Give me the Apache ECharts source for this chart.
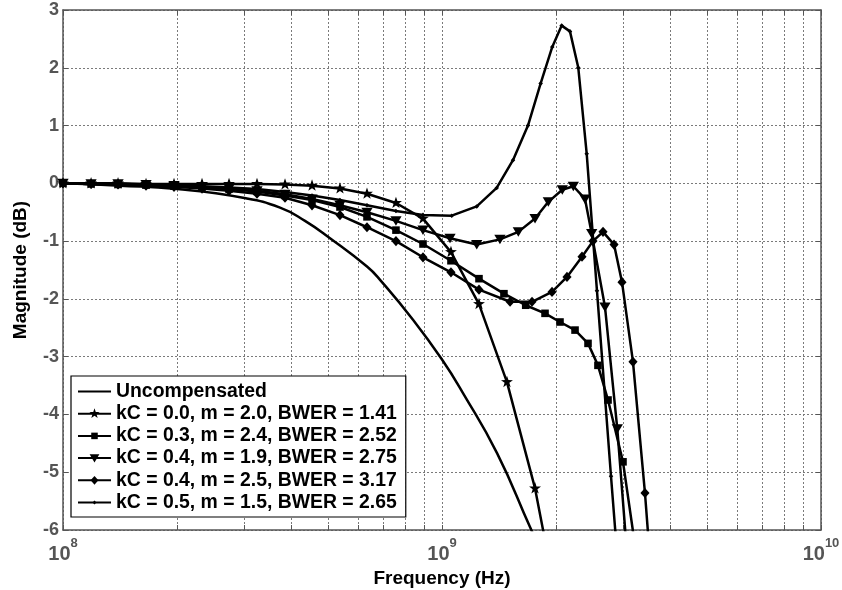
<!DOCTYPE html>
<html>
<head>
<meta charset="UTF-8">
<title>Magnitude response</title>
<style>
  * { margin: 0; padding: 0; }
  body { background: #fff; }
  #main { width: 842px; height: 590px; }
</style>
<script src="https://cdn.jsdelivr.net/npm/echarts@6.0.0/dist/echarts.min.js"></script>
</head>
<body>
<div id="main"></div>
<script>
var font = "'Liberation Sans', Arial, sans-serif";

// frequencies in Hz, magnitudes in dB
var uncompF  = [1.0e8, 1.414e8, 2.0e8, 2.985e8, 3.738e8, 4.35e8, 5.064e8, 6.34e8, 6.863e8, 8.384e8, 1.0e9, 1.136e9, 1.397e9, 1.707e9, 1.82e9];
var uncompDb = [0, -0.04, -0.1, -0.25, -0.42, -0.65, -0.95, -1.44, -1.67, -2.36, -3.05, -3.63, -4.67, -5.95, -6.35];

var starF  = [1.0e8, 1.186e8, 1.397e8, 1.656e8, 1.963e8, 2.327e8, 2.742e8, 3.25e8, 3.853e8, 4.54e8, 5.38e8, 6.34e8, 7.56e8, 8.91e8, 1.056e9, 1.252e9, 1.484e9, 1.76e9, 2.073e9];
var starDb = [0, 0, 0, -0.01, -0.01, -0.01, -0.01, -0.01, -0.02, -0.04, -0.09, -0.18, -0.34, -0.61, -1.19, -2.09, -3.44, -5.28, -7.7];

var lowF = [1.0e8, 1.186e8, 1.397e8, 1.656e8, 1.963e8, 2.327e8, 2.742e8, 3.25e8, 3.853e8, 4.54e8, 5.38e8, 6.34e8, 7.56e8, 8.91e8];

var sqF  = lowF.concat([1.056e9, 1.252e9, 1.457e9, 1.663e9, 1.870e9, 2.048e9, 2.244e9, 2.428e9, 2.579e9, 2.742e9, 3.003e9, 3.269e9]);
var sqDb = [0, -0.01, -0.02, -0.03, -0.05, -0.07, -0.1, -0.14, -0.21, -0.29, -0.41, -0.58, -0.81, -1.05,
            -1.34, -1.65, -1.91, -2.11, -2.25, -2.4, -2.54, -2.77, -3.15, -3.75, -4.82, -6.5];

var triF  = lowF.concat([1.05e9, 1.235e9, 1.422e9, 1.59e9, 1.76e9, 1.908e9, 2.077e9, 2.221e9, 2.384e9, 2.483e9, 2.692e9, 2.901e9, 3.077e9]);
var triDb = [0, -0.01, -0.01, -0.02, -0.04, -0.06, -0.09, -0.13, -0.19, -0.27, -0.38, -0.5, -0.65, -0.81,
             -0.95, -1.06, -0.97, -0.84, -0.61, -0.32, -0.11, -0.05, -0.27, -0.87, -2.14, -4.25, -6.4];

var diaF  = lowF.concat([1.056e9, 1.252e9, 1.512e9, 1.728e9, 1.951e9, 2.137e9, 2.341e9, 2.502e9, 2.66e9, 2.844e9, 2.985e9, 3.191e9, 3.432e9, 3.538e9]);
var diaDb = [0, -0.01, -0.02, -0.04, -0.06, -0.09, -0.13, -0.18, -0.25, -0.38, -0.55, -0.76, -1.0, -1.28,
             -1.54, -1.84, -2.05, -2.05, -1.88, -1.62, -1.27, -1.0, -0.84, -1.06, -1.71, -3.09, -5.36, -6.5];

var dotF  = lowF.concat([1.061e9, 1.235e9, 1.394e9, 1.539e9, 1.686e9, 1.821e9, 1.954e9, 2.069e9, 2.176e9, 2.289e9, 2.409e9, 2.564e9, 2.792e9, 2.896e9]);
var dotDb = [0, -0.01, -0.01, -0.02, -0.03, -0.05, -0.07, -0.1, -0.15, -0.21, -0.29, -0.38, -0.48, -0.55,
             -0.56, -0.4, -0.08, 0.4, 1.0, 1.73, 2.36, 2.73, 2.63, 2.0, 0.51, -1.86, -5.07, -6.4];

var names = [
  'Uncompensated',
  'kC = 0.0, m = 2.0, BWER = 1.41',
  'kC = 0.3, m = 2.4, BWER = 2.52',
  'kC = 0.4, m = 1.9, BWER = 2.75',
  'kC = 0.4, m = 2.5, BWER = 3.17',
  'kC = 0.5, m = 1.5, BWER = 2.65'
];

var majorTicks = [1e8, 1e9, 1e10];
var allTicks = [1e8, 2e8, 3e8, 4e8, 5e8, 6e8, 7e8, 8e8, 9e8, 1e9, 2e9, 3e9, 4e9, 5e9, 6e9, 7e9, 8e9, 9e9, 1e10];

function pairs(f, db) {
  return f.map(function (v, i) { return [v, db[i]]; });
}

// markers drawn inside a 12x12 box so the legend keeps relative sizes
var box = 'path://M0,0 M12,12 ';
var SYM = {
  star: box + 'M6,0.2 L7.35,4.14 L11.52,4.21 L8.19,6.71 L9.41,10.69 L6,8.3 L2.59,10.69 L3.81,6.71 L0.48,4.21 L4.65,4.14 Z',
  square: box + 'M2.5,2.5 L9.5,2.5 L9.5,9.5 L2.5,9.5 Z',
  tri: box + 'M0.8,1.8 L11.2,1.8 L6,10.6 Z',
  dia: box + 'M6,1.3 L10.2,6 L6,10.7 L1.8,6 Z',
  dot: box + 'M6,3.9 L8.1,6 L6,8.1 L3.9,6 Z'
};

var gridDots = { color: '#7a7a7a', type: [2, 2], width: 1 };

function curve(name, f, db, sym) {
  return {
    name: name, type: 'line', data: pairs(f, db),
    symbol: sym, symbolSize: 13, showSymbol: true, showAllSymbol: true,
    lineStyle: { color: '#000', width: 2.5 },
    itemStyle: { color: '#000' },
    emphasis: { disabled: true }
  };
}

var chart = echarts.init(document.getElementById('main'));
chart.setOption({
  animation: false,
  backgroundColor: '#fff',
  grid: { left: 63, right: 21, top: 10, bottom: 60, containLabel: false, outerBoundsMode: 'none' },
  legend: {
    orient: 'vertical', left: 71, top: 376, padding: [6, 9, 5, 6],
    itemWidth: 33, itemHeight: 14, itemGap: 3.2,
    backgroundColor: '#fff', borderColor: '#000', borderWidth: 1.2,
    textStyle: { fontFamily: font, fontSize: 19.4, fontWeight: 'bold', color: '#000' },
    data: names
  },
  xAxis: [{
    type: 'log', logBase: 10, min: 1e8, max: 1e10,
    name: 'Frequency (Hz)', nameLocation: 'middle', nameGap: 37,
    nameTextStyle: { fontFamily: font, fontSize: 19, fontWeight: 'bold', color: '#000' },
    axisLine: { onZero: false, lineStyle: { color: '#555', width: 1.5 } },
    axisTick: { inside: true, length: 5, customValues: allTicks, lineStyle: { color: '#555' } },
    axisLabel: {
      customValues: majorTicks, margin: 7,
      formatter: function (v) { return '{b|10}{s|' + Math.round(Math.log10(v)) + '}'; },
      rich: {
        b: { fontFamily: font, fontSize: 20, fontWeight: 'bold', color: '#555', verticalAlign: 'bottom', lineHeight: 27 },
        s: { fontFamily: font, fontSize: 13, fontWeight: 'bold', color: '#555', verticalAlign: 'top', lineHeight: 14 }
      }
    },
    splitLine: { show: true, lineStyle: gridDots }
  }, {
    type: 'log', logBase: 10, min: 1e8, max: 1e10, position: 'top',
    axisLine: { onZero: false, lineStyle: { color: '#555', width: 1.5 } },
    axisTick: { inside: true, length: 5, customValues: allTicks, lineStyle: { color: '#555' } },
    axisLabel: { show: false },
    splitLine: { show: false }
  }],
  yAxis: [{
    type: 'value', min: -6, max: 3, interval: 1,
    name: 'Magnitude (dB)', nameLocation: 'middle', nameGap: 33, nameRotate: 90,
    nameTextStyle: { fontFamily: font, fontSize: 19, fontWeight: 'bold', color: '#000' },
    axisLine: { show: true, onZero: false, lineStyle: { color: '#555', width: 1.5 } },
    axisTick: { show: true, inside: true, length: 5, lineStyle: { color: '#555' } },
    axisLabel: { margin: 4, color: '#555', fontFamily: font, fontSize: 18, fontWeight: 'bold' },
    splitLine: { show: true, lineStyle: gridDots }
  }, {
    type: 'value', min: -6, max: 3, interval: 1, position: 'right',
    axisLine: { show: true, onZero: false, lineStyle: { color: '#555', width: 1.5 } },
    axisTick: { show: true, inside: true, length: 5, lineStyle: { color: '#555' } },
    axisLabel: { show: false },
    splitLine: { show: false }
  }],
  series: [
    {
      name: names[0], type: 'line', data: pairs(uncompF, uncompDb),
      symbol: 'line', showSymbol: false, smooth: true,
      lineStyle: { color: '#000', width: 2.5 },
      itemStyle: { color: '#000' },
      emphasis: { disabled: true }
    },
    curve(names[1], starF, starDb, SYM.star),
    curve(names[2], sqF, sqDb, SYM.square),
    curve(names[3], triF, triDb, SYM.tri),
    curve(names[4], diaF, diaDb, SYM.dia),
    curve(names[5], dotF, dotDb, SYM.dot)
  ]
});
</script>
</body>
</html>
